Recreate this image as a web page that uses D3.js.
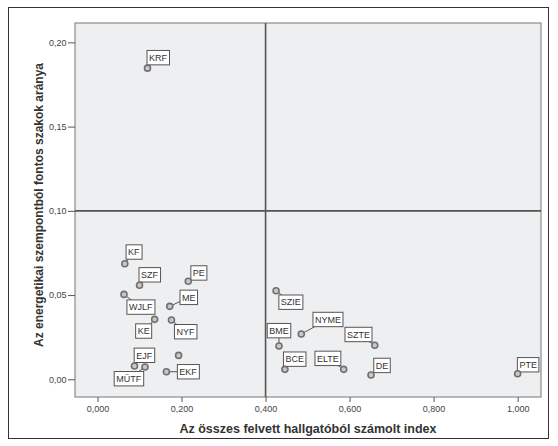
<!DOCTYPE html>
<html><head><meta charset="utf-8">
<script src="https://cdn.jsdelivr.net/npm/d3@7/dist/d3.min.js"></script>
<style>body{margin:0;background:#fff;} svg{display:block;}</style>
</head><body>
<svg id="chart" width="558" height="446"></svg>
<script>
// Data
const names = ["KRF","KF","SZF","PE","WJLF","ME","KE","NYF","", "EJF","MÜTF","EKF","SZIE","BME","NYME","SZTE","BCE","ELTE","DE","PTE"];
const xValues = [0.119,0.065,0.100,0.216,0.063,0.172,0.136,0.176,0.193,0.088,0.113,0.164,0.425,0.432,0.485,0.660,0.446,0.586,0.651,1.000];
const yValues = [0.1847,0.0686,0.0558,0.0582,0.0504,0.0433,0.0356,0.0352,0.0142,0.0079,0.0073,0.0045,0.0526,0.0198,0.0269,0.0202,0.0059,0.0059,0.0026,0.0033];
const xTicks = [0,0.2,0.4,0.6,0.8,1.0];
const yTicks = [0,0.05,0.10,0.15,0.20];
const refX = 0.4, refY = 0.1;
// label placement offsets (pixels, relative to point)
const labelDx = [10.5,9,10,10.6,16.7,19,-11,14,0,9.7,-16.3,21.7,14.8,0,26.7,-16.3,9.8,-15.8,11,10.5];
const labelDy = [-10.5,-11.7,-10.5,-8.3,12.7,-9,11.7,11.7,0,-10.7,11.7,0,11.5,-15.3,-14.5,-10.8,-10.2,-11,-9.5,-9];

const svg = d3.select("#chart");
const L = 75, R = 541, T = 23, B = 397;
const x = d3.scaleLinear().domain([-0.0536, 1.0556]).range([L, R]);
const y = d3.scaleLinear().domain([-0.0105, 0.2115]).range([B, T]);
const FONT = "Liberation Sans, Arial, sans-serif";

// outer frame
svg.append("rect").attr("x",8.5).attr("y",7.5).attr("width",540).attr("height",431)
  .attr("fill","#fff").attr("stroke","#333").attr("stroke-width",1);

// plot bg
svg.append("rect").attr("x",L).attr("y",T).attr("width",R-L).attr("height",B-T)
  .attr("fill","#eeeff1").attr("stroke","#8a8a8a").attr("stroke-width",1.2);

// axes
const fmt = d => d.toFixed(3).replace(".", ",");
const fmtY = d => d.toFixed(2).replace(".", ",");
const xAxis = svg.append("g").attr("transform",`translate(0,${B})`)
  .call(d3.axisBottom(x).tickValues(xTicks).tickFormat(fmt).tickSize(5).tickPadding(4));
const yAxis = svg.append("g").attr("transform",`translate(${L},0)`)
  .call(d3.axisLeft(y).tickValues(yTicks).tickFormat(fmtY).tickSize(7).tickPadding(1.5));
[xAxis,yAxis].forEach(a=>{
  a.select(".domain").remove();
  a.selectAll("line").attr("stroke","#555");
  a.selectAll("text").attr("fill","#444").style("font-family",FONT).style("font-size","9px");
});

// reference lines
svg.append("line").attr("x1",x(refX)).attr("x2",x(refX)).attr("y1",T).attr("y2",B)
  .attr("stroke","#555").attr("stroke-width",1.6);
svg.append("line").attr("x1",L).attr("x2",R).attr("y1",y(refY)).attr("y2",y(refY))
  .attr("stroke","#555").attr("stroke-width",1.6);

// titles
svg.append("text").attr("x",308).attr("y",433).attr("text-anchor","middle")
  .attr("fill","#333").style("font-family",FONT)
  .style("font-size","12.5px").style("font-weight","bold")
  .text("Az összes felvett hallgatóból számolt index");
svg.append("text").attr("transform",`translate(43,205) rotate(-90)`).attr("text-anchor","middle")
  .attr("fill","#333").style("font-family",FONT)
  .style("font-size","12px").style("font-weight","bold")
  .text("Az energetikai szempontból fontos szakok aránya");

// points and labels
const data = names.map((n,i)=>({n, x:xValues[i], y:yValues[i], dx:labelDx[i], dy:labelDy[i]}));
const gL = svg.append("g");
data.forEach(d=>{
  if(!d.n) return;
  const px = x(d.x), py = y(d.y);
  const cx = px + d.dx, cy = py + d.dy;
  gL.append("line").attr("x1",px).attr("y1",py).attr("x2",cx).attr("y2",cy)
    .attr("stroke","#555").attr("stroke-width",1);
  const g = gL.append("g");
  const t = g.append("text").attr("x",cx).attr("y",cy+3.2).attr("text-anchor","middle")
    .attr("fill","#333").style("font-family",FONT).style("font-size","9px").text(d.n);
  const bb = t.node().getBBox();
  g.insert("rect","text").attr("x",bb.x-2).attr("y",cy-7.2).attr("width",bb.width+4).attr("height",14.4)
    .attr("fill","#fff").attr("stroke","#555").attr("stroke-width",1);
});
svg.append("g").selectAll("circle").data(data).join("circle")
  .attr("cx",d=>x(d.x)).attr("cy",d=>y(d.y)).attr("r",3)
  .attr("fill","#c8c8c8").attr("stroke","#707070").attr("stroke-width",1.6);
</script>
</body></html>
